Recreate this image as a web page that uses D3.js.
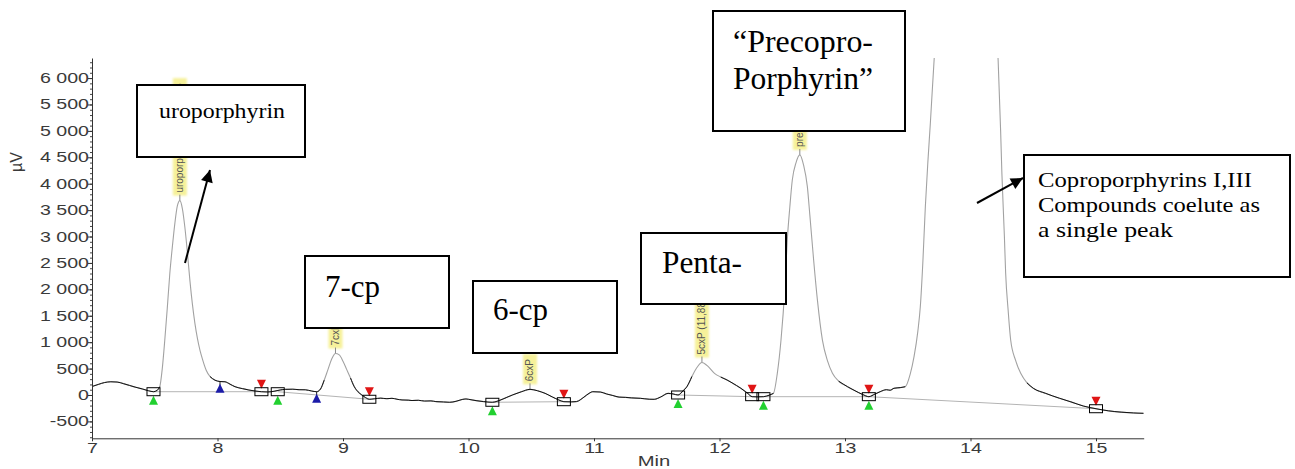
<!DOCTYPE html>
<html>
<head>
<meta charset="utf-8">
<script src="https://cdn.jsdelivr.net/npm/d3@7"></script>
<style>
  body { margin: 0; background: #fff; }
  svg { display: block; }
</style>
</head>
<body>
<svg id="chart"></svg>
<script>
const ancho = 1295;
const alto = 469;

// chromatogram trace (min, µV)
const tiempos = [
  7.00, 7.05, 7.10, 7.15, 7.20, 7.25, 7.30, 7.35, 7.40, 7.45, 7.49, 7.52, 7.54, 7.56, 7.58, 7.60,
  7.62, 7.64, 7.66, 7.68, 7.70, 7.72, 7.74, 7.76, 7.78, 7.80, 7.82, 7.84, 7.86, 7.88, 7.91, 7.94,
  7.98, 8.02, 8.06, 8.10, 8.14, 8.20, 8.25, 8.30, 8.35, 8.40, 8.45, 8.50, 8.54, 8.60, 8.65, 8.70,
  8.75, 8.79, 8.82, 8.85, 8.88, 8.91, 8.94, 8.97, 9.00, 9.03, 9.06, 9.09, 9.12, 9.15, 9.18, 9.21,
  9.25, 9.30, 9.35, 9.39, 9.43, 9.47, 9.52, 9.55, 9.60, 9.65, 9.70, 9.74, 9.80, 9.85, 9.90, 9.95,
  9.98, 10.02, 10.06, 10.12, 10.19, 10.25, 10.30, 10.35, 10.42, 10.49, 10.55, 10.61, 10.67, 10.72, 10.76, 10.82,
  10.86, 10.92, 10.96, 10.99, 11.05, 11.10, 11.15, 11.20, 11.25, 11.30, 11.37, 11.44, 11.48, 11.53, 11.59, 11.63,
  11.67, 11.71, 11.74, 11.78, 11.82, 11.86, 11.90, 11.96, 12.01, 12.06, 12.10, 12.17, 12.22, 12.26, 12.30, 12.35,
  12.40, 12.43, 12.46, 12.49, 12.52, 12.54, 12.56, 12.58, 12.61, 12.64, 12.67, 12.70, 12.72, 12.75, 12.78, 12.82,
  12.86, 12.90, 12.95, 13.02, 13.08, 13.14, 13.19, 13.24, 13.28, 13.33, 13.36, 13.39, 13.44, 13.48, 13.52, 13.55,
  13.58, 13.60, 13.62, 13.64, 13.66, 13.68, 13.71, 13.75, 13.85, 13.95, 14.05, 14.15, 14.20, 14.22, 14.24, 14.25,
  14.27, 14.28, 14.30, 14.32, 14.36, 14.40, 14.45, 14.50, 14.60, 14.71, 14.80, 14.90, 15.00, 15.10, 15.20, 15.30,
  15.38
];
const senal = [
  160, 200, 235, 250, 245, 215, 180, 145, 115, 80, 62, 90, 157, 500, 1040, 1650,
  2300, 2800, 3245, 3580, 3680, 3530, 3175, 2700, 2170, 1720, 1355, 1070, 850, 680, 470, 350,
  280, 255, 250, 205, 157, 120, 94, 75, 62, 58, 70, 95, 107, 110, 100, 98,
  75, 62, 110, 280, 480, 680, 785, 760, 640, 480, 320, 157, 60, 0, -50, -81,
  -72, -60, -70, -63, -80, -94, -98, -105, -100, -115, -112, -125, -132, -138, -120, -85,
  -75, -90, -107, -125, -138, -100, -50, 0, 60, 107, 80, 31, -40, -95, -127, -130,
  -125, -40, 30, 62, 56, 20, -10, -40, -45, -55, -63, -80, -82, -40, 31, 20,
  0, 80, 157, 350, 520, 615, 560, 410, 340, 284, 230, 127, 40, -32, -35, -32,
  0, 32, 400, 1040, 2000, 2935, 3550, 4070, 4400, 4545, 4350, 3945, 3400, 2557, 1800, 1040,
  650, 410, 260, 157, 80, 10, -32, 20, 62, 100, 90, 127, 140, 157, 400, 725,
  1200, 1670, 2500, 3560, 4400, 5145, 6345, 7600, 9600, 10500, 10200, 8800, 7200, 6345, 5000, 4200,
  3000, 2310, 1600, 1040, 650, 410, 230, 127, 30, -63, -130, -210, -260, -300, -325, -340,
  -347
];

// integration boxes (min, µV)
const cajasTiempo = [7.49, 8.35, 8.48, 9.21, 10.19, 10.76, 11.67, 12.26, 12.35, 13.19, 15.00];
const cajasValor = [62, 62, 62, -81, -138, -127, 0, -32, -32, -32, -260];
// baseline segments as pairs of box indices
const lineasBase = [[0, 1], [2, 3], [4, 5], [6, 7], [8, 9], [9, 10]];
const marcasVerdes = [0, 2, 4, 6, 8, 9];
const marcasRojas = [1, 3, 5, 7, 9, 10];
const azulTiempo = [8.02, 8.79];
const azulValor = [250, 62];

// peak name tags
const picosNombre = ["uroporphyrin (7,697 min)", "7cxP (8,945 min)", "6cxP", "5cxP (11,883 min)", "precoproporphyrin"];
const picosTiempo = [7.70, 8.94, 10.49, 11.86, 12.64];

const ticksX = [7, 8, 9, 10, 11, 12, 13, 14, 15];
const ticksY = d3.range(-500, 6001, 500);
const ticksYmenor = d3.range(-800, 6301, 100);

// annotation boxes typed on top of the chart
const notas = [
  { x: 137, y: 85, w: 168, h: 72, size: 22, tx: 159, lineas: [["uroporphyrin", 118, 126]] },
  { x: 305, y: 256, w: 144, h: 72, size: 31, tx: 325, lineas: [["7-cp", 297, 55]] },
  { x: 473, y: 281, w: 144, h: 72, size: 31, tx: 493, lineas: [["6-cp", 320, 55]] },
  { x: 641, y: 233, w: 145, h: 71, size: 31, tx: 662, lineas: [["Penta-", 273, 80]] },
  { x: 713, y: 11, w: 192, h: 120, size: 31, tx: 733, lineas: [["\u201cPrecopro-", 52, 140], ["Porphyrin\u201d", 89, 140]] },
  { x: 1024, y: 155, w: 266, h: 122, size: 22, tx: 1038, lineas: [["Coproporphyrins I,III", 187, 214], ["Compounds coelute as", 212, 222], ["a single peak", 237, 135]] }
];
const flechas = [
  [[185, 263], [210, 170]],
  [[977, 203], [1023, 178]]
];

const svg = d3.select("#chart").attr("width", ancho).attr("height", alto);
svg.append("rect").attr("width", ancho).attr("height", alto).attr("fill", "#fff");

const x = d3.scaleLinear().domain([7, 15.38]).range([92, 1143.7]);
const y = d3.scaleLinear().domain([-820, 6380]).range([438.3, 58]);

const defs = svg.append("defs");
defs.append("clipPath").attr("id", "area")
  .append("rect").attr("x", x(7)).attr("y", y(6380)).attr("width", x(15.38) - x(7)).attr("height", y(-820) - y(6380));
defs.append("filter").attr("id", "suave").attr("x", "-50%").attr("y", "-20%").attr("width", "200%").attr("height", "140%")
  .append("feGaussianBlur").attr("stdDeviation", 1.3);
defs.append("marker").attr("id", "punta")
  .attr("viewBox", "0 0 10 10").attr("refX", 10).attr("refY", 5)
  .attr("markerWidth", 15).attr("markerHeight", 12).attr("markerUnits", "userSpaceOnUse")
  .attr("orient", "auto")
  .append("path").attr("d", "M0,0 L10,5 L0,10 Z").attr("fill", "#000");

const puntos = tiempos.map((t, i) => [t, senal[i]]);
const valorEn = t => senal[d3.bisectLeft(tiempos, t - 1e-9)];

// peak tags (yellow highlight with vertical label)
const gTags = svg.append("g").attr("font-family", "'Liberation Sans', Arial, sans-serif").attr("font-size", 10);
picosNombre.forEach((nombre, i) => {
  const px = x(picosTiempo[i]);
  const py = y(valorEn(picosTiempo[i]));
  const g = gTags.append("g");
  const fondo = g.append("rect").attr("fill", "#f6f19a").attr("filter", "url(#suave)");
  const texto = g.append("text")
    .attr("transform", `translate(${px + 3.5},${py - 8}) rotate(-90)`)
    .attr("fill", "#555")
    .text(nombre);
  const largo = texto.node().getComputedTextLength() + 8;
  fondo.attr("x", px - 7).attr("y", py - 5 - largo).attr("width", 14).attr("height", largo);
  g.append("line").attr("x1", px).attr("x2", px).attr("y1", py).attr("y2", py - 6)
    .attr("stroke", "#888").attr("stroke-width", 1);
});

// integration baselines
svg.append("g").selectAll("line").data(lineasBase).join("line")
  .attr("x1", d => x(cajasTiempo[d[0]])).attr("y1", d => y(cajasValor[d[0]]))
  .attr("x2", d => x(cajasTiempo[d[1]])).attr("y2", d => y(cajasValor[d[1]]))
  .attr("stroke", "#b4b4b4").attr("stroke-width", 1);

// trace: gray everywhere, black on the low parts
const linea = d3.line().x(d => x(d[0])).y(d => y(d[1])).curve(d3.curveMonotoneX);
const gTraza = svg.append("g").attr("clip-path", "url(#area)");
gTraza.append("path").datum(puntos).attr("d", linea)
  .attr("fill", "none").attr("stroke", "#a2a2a2").attr("stroke-width", 1.1);
gTraza.append("path").datum(puntos).attr("d", linea.defined(d => d[1] < 360))
  .attr("fill", "none").attr("stroke", "#111").attr("stroke-width", 1);

// markers
const gMarcas = svg.append("g");
gMarcas.selectAll("path.verde").data(marcasVerdes).join("path").attr("class", "verde")
  .attr("d", i => {
    const cx = x(cajasTiempo[i]), cy = y(cajasValor[i]);
    return `M${cx},${cy + 4} L${cx + 4.5},${cy + 13} L${cx - 4.5},${cy + 13} Z`;
  })
  .attr("fill", "#22d030");
gMarcas.selectAll("path.roja").data(marcasRojas).join("path").attr("class", "roja")
  .attr("d", i => {
    const cx = x(cajasTiempo[i]), cy = y(cajasValor[i]);
    return `M${cx - 4.5},${cy - 12} L${cx + 4.5},${cy - 12} L${cx},${cy - 3} Z`;
  })
  .attr("fill", "#e01515");
gMarcas.selectAll("g.azul").data(azulTiempo).join("g").attr("class", "azul")
  .each(function(t, i) {
    const cx = x(t), cy = y(azulValor[i]);
    const g = d3.select(this);
    g.append("line").attr("x1", cx).attr("x2", cx).attr("y1", cy).attr("y2", cy + 4)
      .attr("stroke", "#222").attr("stroke-width", 1);
    g.append("path").attr("d", `M${cx},${cy + 2} L${cx + 4.5},${cy + 11} L${cx - 4.5},${cy + 11} Z`)
      .attr("fill", "#1b1ba8");
  });
gMarcas.selectAll("rect").data(cajasTiempo).join("rect")
  .attr("x", (t) => x(t) - 6.5).attr("y", (t, i) => y(cajasValor[i]) - 4)
  .attr("width", 13).attr("height", 8)
  .attr("fill", "none").attr("stroke", "#000").attr("stroke-width", 1);

// axes
const locale = d3.formatLocale({ decimal: ".", thousands: " ", grouping: [3], currency: ["", ""], minus: "-" });
const fmt = locale.format(",");

const ejeYmenor = svg.append("g").attr("transform", `translate(${x(7)},0)`)
  .call(d3.axisLeft(y).tickValues(ticksYmenor).tickSize(2).tickFormat(""));
ejeYmenor.select(".domain").remove();
ejeYmenor.selectAll("line").attr("stroke", "#444");

const ejeY = svg.append("g").attr("transform", `translate(${x(7)},0)`)
  .call(d3.axisLeft(y).tickValues(ticksY).tickSize(4).tickSizeOuter(0).tickPadding(-2).tickFormat(fmt));
ejeY.selectAll("text")
  .attr("font-family", "'Liberation Sans', Arial, sans-serif").attr("font-size", 14)
  .attr("fill", "#3a3a3a").attr("x", -2.2).attr("transform", "scale(1.4,1)");

const ejeX = svg.append("g").attr("transform", `translate(0,${y(-820)})`)
  .call(d3.axisBottom(x).tickValues(ticksX).tickSize(3).tickSizeOuter(0).tickPadding(2).tickFormat(d3.format("d")));
ejeX.selectAll("text")
  .attr("font-family", "'Liberation Sans', Arial, sans-serif").attr("font-size", 14)
  .attr("fill", "#3a3a3a").attr("transform", "scale(1.4,1)");
svg.selectAll(".domain").attr("stroke", "#333");
ejeY.selectAll(".tick line").attr("stroke", "#333");
ejeX.selectAll(".tick line").attr("stroke", "#333");

svg.append("text")
  .attr("transform", "translate(22,162) rotate(-90)")
  .attr("text-anchor", "middle")
  .attr("font-family", "'Liberation Sans', Arial, sans-serif").attr("font-size", 16)
  .attr("fill", "#3a3a3a").text("\u00b5V");
svg.append("text")
  .attr("transform", "translate(654,466) scale(1.35,1)")
  .attr("text-anchor", "middle")
  .attr("font-family", "'Liberation Sans', Arial, sans-serif").attr("font-size", 15)
  .attr("fill", "#3a3a3a").text("Min");

// annotation boxes
const gNotas = svg.append("g").attr("font-family", "'Liberation Serif', 'Times New Roman', serif");
notas.forEach(n => {
  gNotas.append("rect").attr("x", n.x).attr("y", n.y).attr("width", n.w).attr("height", n.h)
    .attr("fill", "#fff").attr("stroke", "#000").attr("stroke-width", 2);
  n.lineas.forEach(([txt, base, largo]) => {
    gNotas.append("text").attr("x", n.tx).attr("y", base)
      .attr("font-size", n.size).attr("fill", "#000")
      .attr("textLength", largo).attr("lengthAdjust", "spacingAndGlyphs")
      .text(txt);
  });
});

// arrows
svg.append("g").selectAll("line").data(flechas).join("line")
  .attr("x1", d => d[0][0]).attr("y1", d => d[0][1])
  .attr("x2", d => d[1][0]).attr("y2", d => d[1][1])
  .attr("stroke", "#000").attr("stroke-width", 2)
  .attr("marker-end", "url(#punta)");
</script>
</body>
</html>
